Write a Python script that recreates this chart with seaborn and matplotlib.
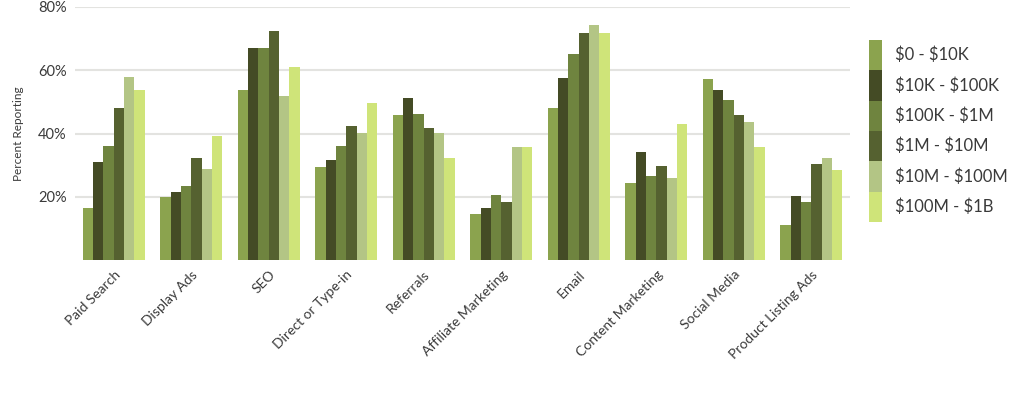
import seaborn as sns
import pandas as pd
import matplotlib.pyplot as plt
from matplotlib.ticker import FixedLocator

channels = ["Paid Search", "Display Ads", "SEO", "Direct or Type-in", "Referrals",
            "Affiliate Marketing", "Email", "Content Marketing", "Social Media",
            "Product Listing Ads"]
tiers = [r"\$0 - \$10K", r"\$10K - \$100K", r"\$100K - \$1M", r"\$1M - \$10M",
         r"\$10M - \$100M", r"\$100M - \$1B"]

# percent reporting per revenue tier, one list per tier (order follows channels)
tier_0_10k = [16.4, 19.9, 53.6, 29.5, 46.0, 14.5, 48.1, 24.3, 57.1, 11.1]
tier_10k_100k = [31.0, 21.6, 66.9, 31.7, 51.3, 16.6, 57.4, 34.0, 53.9, 20.1]
tier_100k_1m = [36.2, 23.3, 66.9, 36.1, 46.3, 20.7, 65.2, 26.6, 50.6, 18.3]
tier_1m_10m = [48.1, 32.4, 72.5, 42.3, 41.8, 18.4, 71.8, 29.8, 46.0, 30.3]
tier_10m_100m = [57.8, 28.8, 51.8, 40.1, 40.1, 35.7, 74.3, 25.8, 43.5, 32.2]
tier_100m_1b = [53.6, 39.3, 61.0, 49.6, 32.3, 35.7, 71.8, 42.9, 35.7, 28.6]

colors = ["#8ba34e", "#444b25", "#6f843f", "#556130", "#b3c585", "#cfe479"]

series = [tier_0_10k, tier_10k_100k, tier_100k_1m, tier_1m_10m, tier_10m_100m, tier_100m_1b]
rows = []
for tier, vals in zip(tiers, series):
    for ch, v in zip(channels, vals):
        rows.append({"channel": ch, "tier": tier, "pct": v})
df = pd.DataFrame(rows)

sns.set_style("white")
plt.rcParams["font.family"] = ["Lato", "DejaVu Sans"]
text_col = "#3a3a3a"

fig = plt.figure(figsize=(10.34, 3.97), dpi=100)
ax = fig.add_axes([75 / 1034, 1 - 260 / 397, 775 / 1034, 253 / 397])

sns.barplot(data=df, x="channel", y="pct", hue="tier", order=channels,
            hue_order=tiers, palette=colors, width=0.8, linewidth=0,
            saturation=1, errorbar=None, ax=ax, zorder=3)

ax.set_ylim(0, 80)
ax.set_xlim(-0.5, len(channels) - 0.5)
ax.yaxis.set_major_locator(FixedLocator([20, 40, 60, 80]))
ax.set_yticklabels(["20%", "40%", "60%", "80%"], fontsize=10.5, color=text_col)
ax.grid(axis="y", color="#e3e3e0", linewidth=1.5, zorder=0)
ax.tick_params(axis="both", length=0, pad=6)
ax.set_xticks(range(len(channels)))
ax.set_xticklabels(channels, rotation=45, ha="right", rotation_mode="anchor",
                   fontsize=10, color=text_col)
ax.set_xlabel("")
ax.set_ylabel("Percent Reporting", fontsize=8.5, color=text_col, labelpad=10)
sns.despine(ax=ax, left=True, bottom=True)

leg = ax.legend(loc="center left", bbox_to_anchor=(1.016, 0.51), frameon=False,
                fontsize=12, handlelength=0.78, handleheight=2.42,
                labelspacing=0.0, handletextpad=0.75, borderaxespad=0)
for t in leg.get_texts():
    t.set_color(text_col)

fig.savefig("out.png", dpi=100)
